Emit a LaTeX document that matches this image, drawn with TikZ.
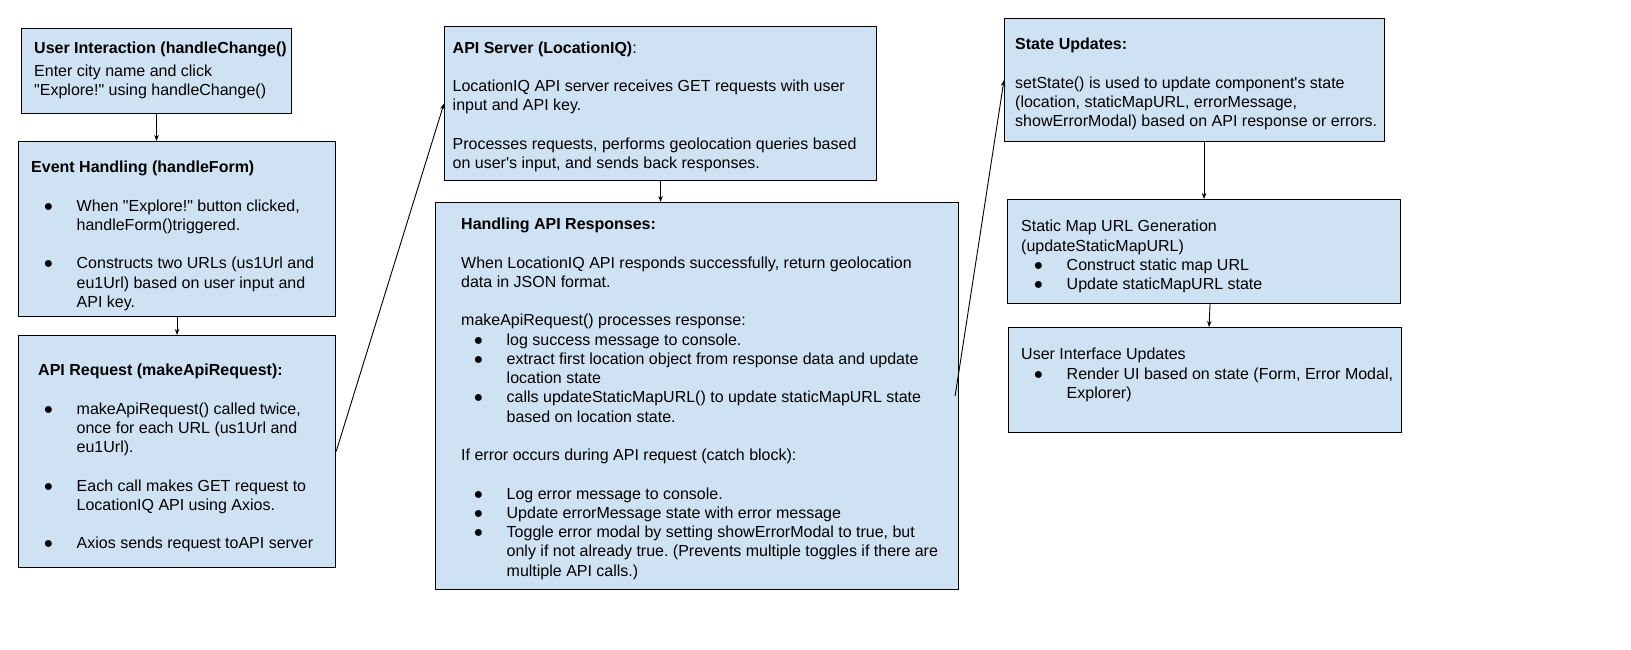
\documentclass[tikz,border=0pt]{standalone}
\usepackage{fontspec}
\setmainfont{Liberation Sans}
\usetikzlibrary{arrows.meta}

\definecolor{panelblue}{HTML}{CFE2F3}
\newcommand{\bull}{\hspace*{12.5pt}\makebox[33pt][l]{●}}
\newcommand{\itemind}{\hspace*{45.5pt}}
\newcommand{\gap}{19.25pt}
\newcommand{\apos}{\textquotesingle}
\newcommand{\dq}{\textquotedbl}
\frenchspacing

\begin{document}
\begin{tikzpicture}[x=1pt,y=-1pt,
    panel/.style={draw=black,line width=1.1pt,fill=panelblue,anchor=north west,inner sep=0pt},
    ptext/.style={anchor=north west,inner sep=0pt,align=left,font=\fontsize{16}{19.25}\selectfont},
    flow/.style={line width=0.9pt,-{Stealth[length=6pt,width=4.5pt]}}]
    \fill[white] (0,0) rectangle (1631,649);
    \useasboundingbox (0,0) rectangle (1631,649);

    % boxes
    \node[panel,minimum width=270,minimum height=85] (usr) at (21,28) {};
    \node[panel,minimum width=317,minimum height=175] (evt) at (18,141) {};
    \node[panel,minimum width=317,minimum height=232] (req) at (18,335) {};
    \node[panel,minimum width=432,minimum height=154] (srv) at (444,26) {};
    \node[panel,minimum width=523,minimum height=387] (resp) at (435,202) {};
    \node[panel,minimum width=380,minimum height=123] (sta) at (1004,18) {};
    \node[panel,minimum width=393,minimum height=104] (map) at (1007,199) {};
    \node[panel,minimum width=393,minimum height=105] (ui) at (1008,327) {};

    % texts
    \node[ptext] (usrtxt) at (34,39.4) {\strut\textbf{User Interaction (handleChange()}\\[3.75pt]
        Enter city name and click\\
        \dq Explore!\dq{} using handleChange()};
    \node[ptext] (evttxt) at (31,159) {\strut\textbf{Event Handling (handleForm)}\\[\gap]
        \bull When \dq Explore!\dq{} button clicked,\\
        \itemind handleForm()triggered.\\[\gap]
        \bull Constructs two URLs (us1Url and\\
        \itemind eu1Url) based on user input and\\
        \itemind API key.};
    \node[ptext] (reqtxt) at (31,362) {\strut\hspace*{7pt}\textbf{API Request (makeApiRequest):}\\[\gap]
        \bull makeApiRequest() called twice,\\
        \itemind once for each URL (us1Url and\\
        \itemind eu1Url).\\[\gap]
        \bull Each call makes GET request to\\
        \itemind LocationIQ API using Axios.\\[\gap]
        \bull Axios sends request toAPI server};
    \node[ptext] (srvtxt) at (452.5,39.4) {\strut\textbf{API Server (LocationIQ)}:\\[\gap]
        LocationIQ API server receives GET requests with user\\
        input and API key.\\[\gap]
        Processes requests, performs geolocation queries based\\
        on user\apos s input, and sends back responses.};
    \node[ptext] (resptxt) at (461,216) {\strut\textbf{Handling API Responses:}\\[\gap]
        When LocationIQ API responds successfully, return geolocation\\
        data in JSON format.\\[\gap]
        makeApiRequest() processes response:\\
        \bull log success message to console.\\
        \bull extract first location object from response data and update\\
        \itemind location state\\
        \bull calls updateStaticMapURL() to update staticMapURL state\\
        \itemind based on location state.\\[\gap]
        If error occurs during API request (catch block):\\[\gap]
        \bull Log error message to console.\\
        \bull Update errorMessage state with error message\\
        \bull Toggle error modal by setting showErrorModal to true, but\\
        \itemind only if not already true. (Prevents multiple toggles if there are\\
        \itemind multiple API calls.)};
    \node[ptext] (statxt) at (1015,36.3) {\strut\textbf{State Updates:}\\[\gap]
        setState() is used to update component\apos s state\\
        (location, staticMapURL, errorMessage,\\
        showErrorModal) based on API response or errors.};
    \node[ptext] (maptxt) at (1021,218.3) {\strut Static Map URL Generation\\
        (updateStaticMapURL)\\
        \bull Construct static map URL\\
        \bull Update staticMapURL state};
    \node[ptext] (uitxt) at (1021,346.3) {\strut User Interface Updates\\
        \bull Render UI based on state (Form, Error Modal,\\
        \itemind Explorer)};

    % connectors
    \draw[flow] (usr.south) -- (usr.south |- evt.north);
    \draw[flow] (evt.south) -- (req.north);
    \draw[flow] (req.east) -- (srv.west);
    \draw[flow] (srv.south) -- (srv.south |- resp.north);
    \draw[flow] ([xshift=-4]resp.east) -- (sta.west);
    \draw[flow] (map.north |- sta.south) -- (map.north);
    \draw[flow] ([xshift=6]map.south) -- ([xshift=4]ui.north);
\end{tikzpicture}
\end{document}
